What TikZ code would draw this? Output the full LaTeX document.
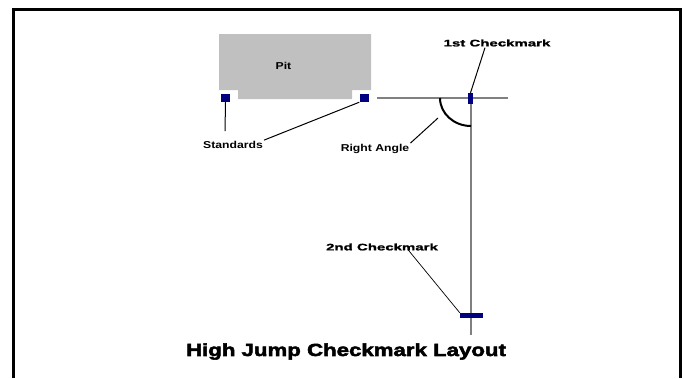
\documentclass[tikz,border=0pt]{standalone}
\usepackage{fontspec}
\setmainfont{Liberation Sans}
\newfontfamily\wideface[FakeStretch=1.22]{Liberation Sans}
\newfontfamily\heavyface[UprightFont=* Bold, FakeBold=1.5, FakeStretch=1.58]{Liberation Sans}
\newfontfamily\titleface[UprightFont=* Bold, FakeBold=3, FakeStretch=1.27]{Liberation Sans}
\usetikzlibrary{positioning}
\definecolor{pitgray}{RGB}{192,192,192}
\definecolor{markblue}{RGB}{0,0,128}
\definecolor{linegray}{RGB}{128,128,128}
\tikzset{
  lbl/.style={font=\wideface\bfseries\fontsize{10}{12}\selectfont, inner sep=1pt},
  heavylbl/.style={font=\heavyface\fontsize{9.5}{11}\selectfont, inner sep=1pt},
  leader/.style={black, line width=1pt},
  runway/.style={linegray, line width=2pt},
  markbox/.style={fill=markblue, draw=none, inner sep=0pt}
}

\begin{document}
\begin{tikzpicture}[x=1pt, y=-1pt]
\useasboundingbox (0,0) rectangle (684,378);
% frame
\draw[line width=3pt] (13,378) -- (13,9) -- (680,9) -- (680,378);

% pit with the two notches
\fill[pitgray] (219,34) -- (371,34) -- (371,90) -- (352,90) -- (352,99)
  -- (238,99) -- (238,90) -- (219,90) -- cycle;
\node[lbl] (pit) at (283.5,66) {Pit};

% run-up lines
\coordinate (hstart) at (377,98);
\coordinate (hend) at (508,98);
\coordinate (vend) at (471,335);
\draw[runway] (hstart) -- (hend);
\draw[runway] (471,98) -- (vend);

% right angle
\draw[line width=2pt] (440,98) arc[start angle=180, end angle=90, x radius=31, y radius=28];
\coordinate (arcpt) at (438,118);

% standards and checkmarks
\node[markbox, minimum width=9pt, minimum height=8pt] (stdL) at (225.5,98) {};
\node[markbox, minimum width=9pt, minimum height=8pt] (stdR) at (364,98) {};
\node[markbox, minimum width=5pt, minimum height=11pt] (mark1) at (470.5,98.5) {};
\node[markbox, minimum width=23pt, minimum height=5pt] (mark2) at (471.5,315.5) {};

% labels
\node[lbl] (stds) at (233,145) {Standards};
\node[lbl] (rangle) at (375,149) {Right Angle};
\node[heavylbl] (first) at (497,43) {1st Checkmark};
\node[heavylbl] (second) at (382,247) {2nd Checkmark};
\node[font=\titleface\fontsize{17.5}{20}\selectfont, inner sep=1pt] (title) at (346,351.5) {High Jump Checkmark Layout};

% leaders
\coordinate (stdLend) at (225,131);
\draw[leader] (stdL.south) -- (stdLend);
\draw[leader] (stds.north east) -- (stdR.south west);
\draw[leader] (rangle.north east) -- (arcpt);
\draw[leader] (mark1.north) -- ([xshift=-12pt]first.south);
\draw[leader, line width=0.7pt] ([xshift=26pt,yshift=2pt]second.south) -- (mark2.north west);
\end{tikzpicture}
\end{document}
